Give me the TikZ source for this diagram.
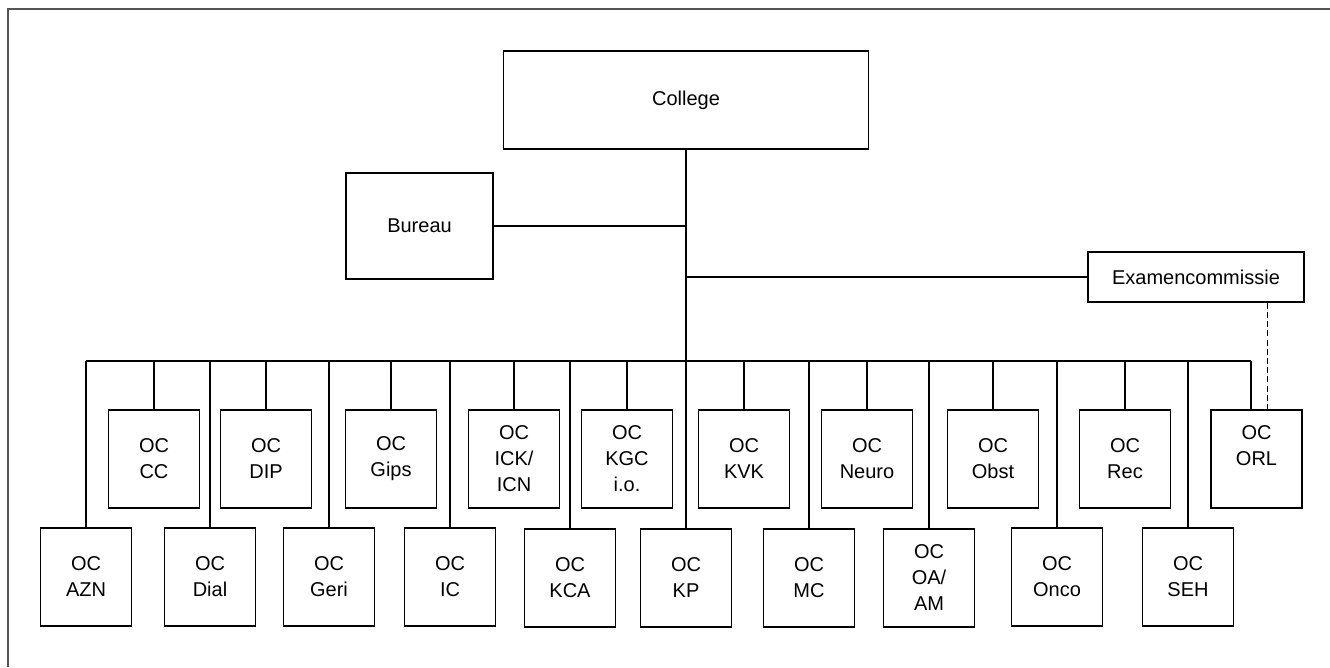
\documentclass[tikz,border=0pt]{standalone}
\usepackage{fontspec}
\setmainfont{Liberation Sans}
\definecolor{framegray}{RGB}{85,85,85}
\begin{document}
\begin{tikzpicture}[x=0.75pt,y=-0.75pt,
  box/.style={draw,line width=1.2pt,rectangle,inner sep=0pt,align=center,
    font=\fontsize{15}{19.5}\selectfont,minimum width=68.25pt,minimum height=73.5pt},
  conn/.style={line width=1.2pt},
  dashconn/.style={line width=1.4pt,dash pattern=on 4.5pt off 2.4pt},
  framestyle/.style={line width=1.9pt,draw=framegray}]
\useasboundingbox (0,0) rectangle (1330,667);
% open frame
\draw[framestyle] (1330,9) -- (8,9) -- (8,667);

% top level
\node[box,minimum width=273.75pt,minimum height=73.5pt] (college) at (686,100) {College};
\node[box,minimum width=110.25pt,minimum height=79.5pt] (bureau) at (419.5,226) {Bureau};
\node[box,minimum width=162pt,minimum height=37.5pt] (exam) at (1196,277) {Examencommissie};

% lower row
\node[box] (azn)  at (86,577)   {OC\\AZN};
\node[box] (dial) at (210,577)  {OC\\Dial};
\node[box] (geri) at (329,577)  {OC\\Geri};
\node[box] (ic)   at (450,577)  {OC\\IC};
\node[box] (kca)  at (570,578)  {OC\\KCA};
\node[box] (kp)   at (686,578)  {OC\\KP};
\node[box] (mc)   at (809,578)  {OC\\MC};
\node[box] (oa)   at (929,578)  {OC\\OA/\\AM};
\node[box] (onco) at (1057,577) {OC\\Onco};
\node[box] (seh)  at (1188,577) {OC\\SEH};

% upper row
\node[box] (cc)    at (154,459)    {OC\\CC};
\node[box] (dip)   at (266,459)    {OC\\DIP};
\node[box] (gips)  at (391,459)    {OC\\Gips};
\node[box] (ick)   at (514,459)    {OC\\ICK/\\ICN};
\node[box] (kgc)   at (627,459)    {OC\\KGC\\i.o.};
\node[box] (kvk)   at (744,459)    {OC\\KVK};
\node[box] (neuro) at (867,459)    {OC\\Neuro};
\node[box] (obst)  at (993,459)    {OC\\Obst};
\node[box] (rec)   at (1125,459)   {OC\\Rec};
\node[box] (orl)   at (1256.5,459) {OC\\ORL\\\mbox{}};

% bus
\coordinate (bus) at (686,361);
\coordinate (orltop) at ([xshift=-4.125pt]orl.north);
\draw[conn] (azn.north |- bus) -- (orltop |- bus);

% trunk and side branches
\draw[conn] (college.south) -- (bus);
\draw[conn] (bureau.east) -- (bureau.east -| college.south);
\draw[conn] (exam.west) -- (exam.west -| college.south);

% drops
\foreach \n in {azn,dial,geri,ic,kca,kp,mc,oa,onco,seh,cc,dip,gips,ick,kgc,kvk,neuro,obst,rec}
  \draw[conn] (\n.north) -- (\n.north |- bus);
\draw[conn] (orltop) -- (orltop |- bus);

% dashed link
\coordinate (dsh) at (1267.5,0);
\draw[dashconn] (exam.south -| dsh) -- (orl.north -| dsh);
\end{tikzpicture}
\end{document}
